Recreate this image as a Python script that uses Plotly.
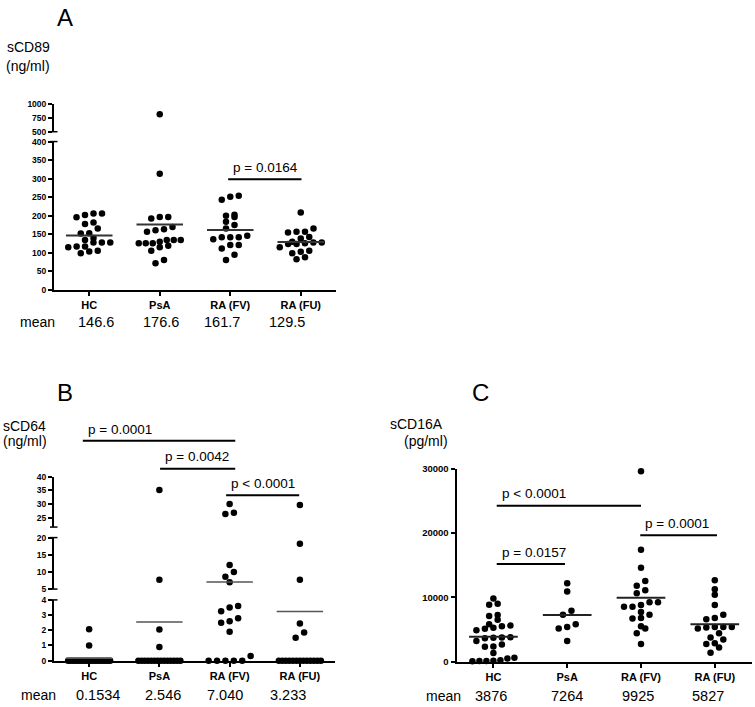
import plotly.graph_objects as go

W, H = 755, 707
FONT = "Arial, 'Liberation Sans', Helvetica, sans-serif"

categories = ["HC", "PsA", "RA (FV)", "RA (FU)"]

# ---- Panel A: sCD89 (ng/ml)
a_hc = [206, 202, 206, 196, 182, 178, 166, 152, 153, 135, 140, 128, 128, 128,
        117, 117, 115, 106, 104, 99]
a_psa = [820, 313, 197, 193, 197, 170, 161, 157, 164, 135, 126, 135, 130, 126,
         135, 126, 115, 119, 106, 72, 81]
a_fv = [251, 243, 254, 203, 197, 200, 184, 175, 166, 137, 142, 142, 142, 146,
        121, 121, 112, 95, 81]
a_fu = [209, 166, 157, 155, 157, 143, 139, 124, 128, 130, 128, 124, 126, 115,
        106, 103, 99, 83, 88]
a_means = ["146.6", "176.6", "161.7", "129.5"]

# ---- Panel B: sCD64 (ng/ml)
b_hc = [0, 0, 0, 0, 0, 0, 0, 0, 0, 0, 0, 0, 0, 0, 0, 0, 0, 0, 1.0, 2.07]
b_psa = [0, 0, 0, 0, 0, 0, 0, 0, 0, 0, 0, 0, 0, 0, 35.2, 7.7, 2.05, 0.9]
b_fv = [30.0, 26.3, 26.8, 12.0, 10.0, 8.6, 7.0, 3.5, 3.6, 3.25, 2.8, 2.5, 2.6,
        1.9, 0.3, 0, 0, 0, 0, 0]
b_fu = [29.6, 18.2, 7.7, 2.45, 1.85, 1.5, 0, 0, 0, 0, 0, 0, 0, 0, 0, 0, 0, 0, 0]
b_means = ["0.1534", "2.546", "7.040", "3.233"]

# ---- Panel C: sCD16A (pg/ml)
c_hc = [9000, 8850, 9800, 7100, 7250, 5800, 5500, 4900, 5250, 5600, 6500, 5100,
        3200, 3700, 3750, 3800, 3650, 2350, 2300, 2650, 1350, 600, 500, 100,
        150, 50, 200, 100]
c_psa = [12200, 10900, 7300, 7900, 5400, 5150, 5800, 3200]
c_fv = [29600, 17400, 14600, 12550, 11800, 11100, 10650, 9250, 8550, 8550, 8800,
        9250, 7300, 6700, 6800, 7700, 5150, 5500, 4400, 2750]
c_fu = [12650, 11250, 10400, 8800, 6800, 6600, 7300, 5400, 5300, 5400, 5150,
        5400, 4400, 3750, 3450, 2750, 2850, 2200, 1400]
c_means = ["3876", "7264", "9925", "5827"]

# ticks per axis segment
a_ticks_low = [0, 50, 100, 150, 200, 250, 300, 350, 400]
a_ticks_high = [500, 750, 1000]
b_ticks_low = [0, 1, 2, 3, 4]
b_ticks_mid = [5, 10, 15, 20]
b_ticks_high = [25, 30, 35, 40]
c_ticks = [0, 10000, 20000, 30000]

# comparisons: (from, to, label)
a_comp = [(2.97, 4.01, "p = 0.0164")]
b_comp = [(0.91, 3.08, "p = 0.0001"), (2.01, 3.08, "p = 0.0042"), (2.95, 3.99, "p < 0.0001")]
c_comp = [(1.045, 3.0, "p < 0.0001"), (1.045, 1.97, "p = 0.0157"), (2.99, 4.03, "p = 0.0001")]


def xp(px):
    return px / W


def yp(py):
    return 1 - py / H


panels = [
    dict(letter="A", data=[a_hc, a_psa, a_fv, a_fu], means=a_means,
         x0=54, x1=336, tick_size=8.5,
         segs=[(0, 400, 288.5, 137.7, a_ticks_low), (500, 1000, 127.7, 100, a_ticks_high)],
         comps=a_comp, bar_y=[176],
         letter_pos=(65, 12), title=[("sCD89", 5, 42), ("(ng/ml)", 4, 61)],
         mean_y=321, mean_word_x=37.5, mean_x=[95.7, 161, 221.7, 287.3],
         mean_color="#333", mean_w=2),
    dict(letter="B", data=[b_hc, b_psa, b_fv, b_fu], means=b_means,
         x0=54, x1=335, tick_size=8.5,
         segs=[(0, 4, 665, 603.3, b_ticks_low), (5, 20, 592.3, 540, b_ticks_mid),
               (21.5, 40, 529.3, 478.3, b_ticks_high)],
         comps=b_comp, bar_y=[441.7, 470, 497],
         letter_pos=(65, 393), title=[("sCD64", 1, 427), ("(ng/ml)", 1, 442)],
         mean_y=699.5, mean_word_x=38, mean_x=[97.5, 163, 225, 288.3],
         mean_color="#555", mean_w=1.5),
    dict(letter="C", data=[c_hc, c_psa, c_fv, c_fu], means=c_means,
         x0=456.5, x1=751.7, tick_size=9.5,
         segs=[(0, 30000, 666, 470, c_ticks)],
         comps=c_comp, bar_y=[507.7, 566.7, 537.7],
         letter_pos=(480, 393), title=[("sCD16A", 388, 425), ("(pg/ml)", 402, 442)],
         mean_y=700.5, mean_word_x=443.5, mean_x=[490.8, 566.7, 637.5, 707.5],
         mean_color="#222", mean_w=2),
]

fig = go.Figure()
layout = dict(width=W, height=H, margin=dict(l=0, r=0, t=0, b=0),
              paper_bgcolor="white", plot_bgcolor="white", showlegend=False,
              font=dict(family=FONT, color="black"))
shapes = []
annotations = []

XR = (0.5, 4.5)
DOT = 6.5
yaxis_count = 0

for pi, P in enumerate(panels):
    xid = "x" if pi == 0 else f"x{pi + 1}"
    xkey = "xaxis" if pi == 0 else f"xaxis{pi + 1}"
    ppu = (P["x1"] - P["x0"]) / (XR[1] - XR[0])  # pixels per category unit

    seg_ids = []
    for si, (lo, hi, pb, pt, tv) in enumerate(P["segs"]):
        yaxis_count += 1
        yid = "y" if yaxis_count == 1 else f"y{yaxis_count}"
        ykey = "yaxis" if yaxis_count == 1 else f"yaxis{yaxis_count}"
        seg_ids.append(yid)
        layout[ykey] = dict(
            domain=[yp(pb), yp(pt)], range=[lo, hi], anchor=xid,
            showline=True, linewidth=2, linecolor="black",
            ticks="outside", ticklen=4, tickwidth=1.5, tickcolor="black",
            tickvals=tv, ticktext=[str(t) for t in tv],
            tickfont=dict(size=P["tick_size"], family=FONT, weight=700, color="black"),
            showgrid=False, zeroline=False, fixedrange=True)
        # break caps
        nseg = len(P["segs"])
        ends = []
        if si > 0:
            ends.append(pb)
        if si < nseg - 1:
            ends.append(pt)
        for e in ends:
            shapes.append(dict(type="line", xref="paper", yref="paper",
                               x0=xp(P["x0"] - 4), x1=xp(P["x0"] + 3.5),
                               y0=yp(e), y1=yp(e), line=dict(color="black", width=1.5)))

    layout[xkey] = dict(
        domain=[xp(P["x0"]), xp(P["x1"])], range=list(XR), anchor=seg_ids[0],
        showline=True, linewidth=2, linecolor="black",
        ticks="outside", ticklen=4, tickwidth=1.5, tickcolor="black",
        tickvals=[1, 2, 3, 4], ticktext=categories,
        tickfont=dict(size=11, family=FONT, weight=700, color="black"),
        showgrid=False, zeroline=False, fixedrange=True)

    def seg_of(v, P=P):
        for i, (lo, hi, pb, pt, tv) in enumerate(P["segs"]):
            if lo <= v <= hi:
                return i
        return None

    def to_px(v, P=P):
        i = seg_of(v)
        lo, hi, pb, pt, tv = P["segs"][i]
        return pb - (v - lo) / (hi - lo) * (pb - pt)

    for ci, vals in enumerate(P["data"]):
        center = ci + 1
        # build rows (column scatter)
        order = sorted(vals)
        rows = []
        for v in order:
            if rows and abs(to_px(v) - to_px(rows[-1][0])) < 5.5:
                rows[-1].append(v)
            else:
                rows.append([v])
        xs, ys = [], []
        for row in rows:
            n = len(row)
            s = 8.5 if n <= 1 else min(8.5, 42.0 / (n - 1))
            for k, v in enumerate(row):
                off = (k - (n - 1) / 2) * s
                xs.append(center + off / ppu)
                ys.append(v)
        for si, yid in enumerate(seg_ids):
            sx = [x for x, y in zip(xs, ys) if seg_of(y) == si]
            sy = [y for x, y in zip(xs, ys) if seg_of(y) == si]
            if sx:
                fig.add_trace(go.Scatter(x=sx, y=sy, xaxis=xid, yaxis=yid, mode="markers",
                                         marker=dict(size=DOT, color="black"),
                                         cliponaxis=False, hoverinfo="y"))
        # mean line
        m = float(P["means"][ci])
        si = seg_of(m)
        fig.add_trace(go.Scatter(x=[center - 0.33, center + 0.33], y=[m, m],
                                 xaxis=xid, yaxis=seg_ids[si], mode="lines",
                                 line=dict(color=P["mean_color"], width=P["mean_w"]),
                                 cliponaxis=False, hoverinfo="skip"))
        # mean label
        annotations.append(dict(text=P["means"][ci], xref="paper", yref="paper",
                                x=xp(P["mean_x"][ci]), y=yp(P["mean_y"]),
                                xanchor="center", yanchor="middle", showarrow=False,
                                font=dict(size=14.5, family=FONT, color="black")))
    annotations.append(dict(text="mean", xref="paper", yref="paper",
                            x=xp(P["mean_word_x"]), y=yp(P["mean_y"]),
                            xanchor="center", yanchor="middle", showarrow=False,
                            font=dict(size=14, family=FONT, color="black")))

    # comparison bars
    for (a, b, label), by in zip(P["comps"], P["bar_y"]):
        shapes.append(dict(type="line", xref=xid, yref="paper", x0=a, x1=b,
                           y0=yp(by), y1=yp(by), line=dict(color="black", width=2)))
        annotations.append(dict(text=label, xref=xid, yref="paper", x=a, xshift=3,
                                y=yp(by - 12), xanchor="left", yanchor="middle",
                                showarrow=False,
                                font=dict(size=13.5, family=FONT, color="black")))

    # panel letter and titles
    lx, ly = P["letter_pos"]
    annotations.append(dict(text=P["letter"], xref="paper", yref="paper",
                            x=xp(lx), y=yp(ly), xanchor="center", yanchor="middle",
                            showarrow=False, font=dict(size=24, family=FONT, color="black")))
    for txt, tx, ty in P["title"]:
        annotations.append(dict(text=txt, xref="paper", yref="paper",
                                x=xp(tx), y=yp(ty), xanchor="left", yanchor="middle",
                                showarrow=False,
                                font=dict(size=14, family=FONT, color="black")))

layout["shapes"] = shapes
layout["annotations"] = annotations
fig.update_layout(**layout)
fig.write_html(
    "out.html",
    config={"displayModeBar": False},
    post_script="document.body.style.margin='0px';document.body.style.padding='0px';"
                "document.body.style.overflow='hidden';",
)
